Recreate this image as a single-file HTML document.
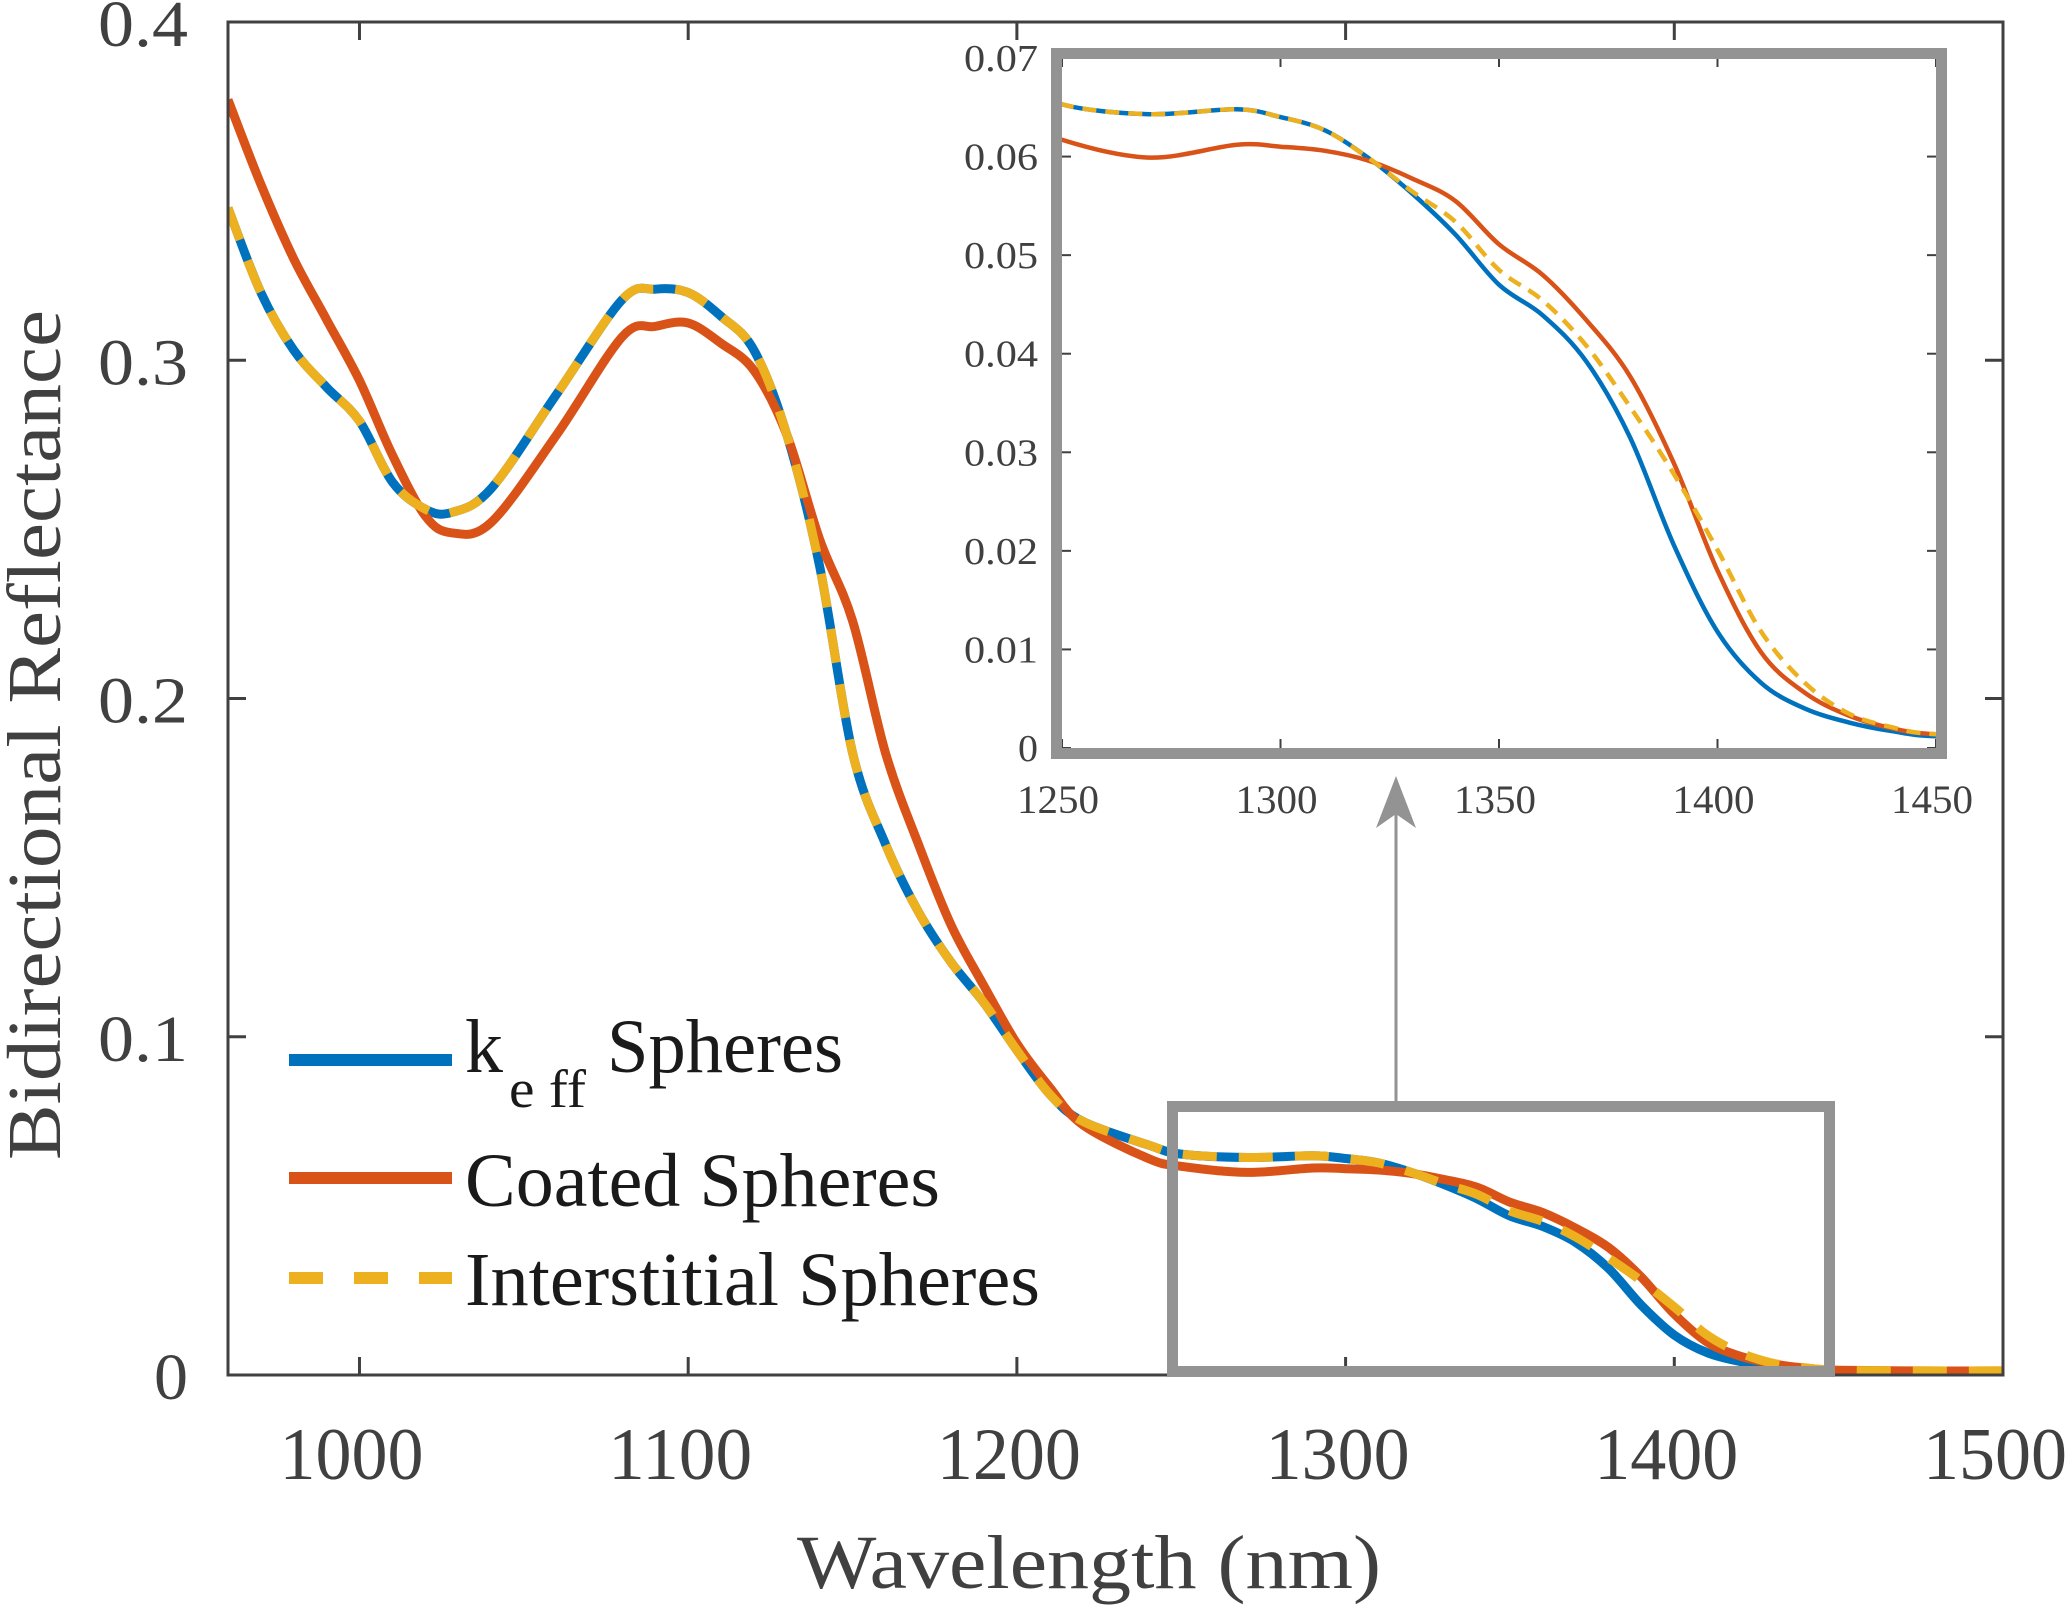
<!DOCTYPE html>
<html><head><meta charset="utf-8"><style>
html,body{margin:0;padding:0;background:#fff;}
svg{display:block;font-family:"Liberation Serif",serif;}
</style></head><body>
<svg id="chart" width="2067" height="1611" viewBox="0 0 2067 1611" xmlns="http://www.w3.org/2000/svg">
<rect x="0" y="0" width="2067" height="1611" fill="#fff"/>
<g id="main-marks"></g>
<g id="main-axes"></g>
<g id="inset"></g>
<g id="legend">
  <line x1="289" y1="1060" x2="452" y2="1060" stroke="#0072BD" stroke-width="12"/>
  <text x="465" y="1072" font-size="76" fill="#1a1a1a" textLength="38" lengthAdjust="spacingAndGlyphs">k</text>
  <text x="509" y="1107" font-size="54" fill="#1a1a1a" textLength="77" lengthAdjust="spacingAndGlyphs">e ff</text>
  <text x="607" y="1072" font-size="76" fill="#1a1a1a" textLength="236" lengthAdjust="spacingAndGlyphs">Spheres</text>
  <line x1="289" y1="1178" x2="452" y2="1178" stroke="#D95319" stroke-width="12"/>
  <text x="465" y="1206" font-size="76" fill="#1a1a1a" textLength="475" lengthAdjust="spacingAndGlyphs">Coated Spheres</text>
  <line x1="289" y1="1278" x2="452" y2="1278" stroke="#EDB120" stroke-width="12" stroke-dasharray="34 31"/>
  <text x="465" y="1305" font-size="76" fill="#1a1a1a" textLength="575" lengthAdjust="spacingAndGlyphs">Interstitial Spheres</text>
</g>
<text x="1089" y="1588" font-size="76" fill="#404040" text-anchor="middle" textLength="584" lengthAdjust="spacingAndGlyphs">Wavelength (nm)</text>
<text x="0" y="0" font-size="76" fill="#404040" text-anchor="middle" transform="translate(60,735) rotate(-90)" textLength="850" lengthAdjust="spacingAndGlyphs">Bidirectional Reflectance</text>
</svg>
<script>
const wavelengths = [960,970,980,990,1000,1010,1020,1028,1040,1060,1080,1090,1100,1110,1120,1130,1140,1150,1160,1170,1180,1190,1200,1210,1220,1240,1250,1270,1290,1300,1310,1320,1330,1340,1350,1360,1370,1380,1390,1400,1410,1420,1430,1440,1450,1475,1500];
const keffValues = [0.345,0.320,0.303,0.292,0.282,0.264,0.256,0.255,0.262,0.29,0.318,0.321,0.320,0.313,0.303,0.278,0.239,0.184,0.157,0.137,0.122,0.110,0.096,0.083,0.075,0.068,0.0653,0.0643,0.0648,0.064,0.0627,0.0599,0.0563,0.0521,0.047,0.0439,0.0392,0.0315,0.0206,0.0118,0.0066,0.004,0.0026,0.0017,0.0012,0.0011,0.001];
const coatedValues = [0.377,0.352,0.330,0.312,0.294,0.272,0.254,0.249,0.252,0.278,0.307,0.310,0.311,0.305,0.297,0.278,0.247,0.223,0.184,0.157,0.133,0.115,0.098,0.085,0.074,0.064,0.0617,0.0599,0.0612,0.0610,0.0606,0.0596,0.0578,0.0555,0.0511,0.048,0.0434,0.0377,0.0289,0.018,0.0097,0.0056,0.0033,0.002,0.0014,0.0012,0.0012];
const interstitialValues = [0.345,0.320,0.303,0.292,0.282,0.264,0.256,0.255,0.262,0.29,0.318,0.321,0.320,0.313,0.303,0.278,0.239,0.184,0.157,0.137,0.122,0.110,0.096,0.083,0.075,0.068,0.0653,0.0643,0.0648,0.064,0.0627,0.0599,0.0565,0.0534,0.0485,0.0454,0.0408,0.0346,0.0278,0.0201,0.0118,0.0066,0.0035,0.0021,0.0014,0.0012,0.0012];
const mainXTicks = [1000,1100,1200,1300,1400,1500];
const mainYTicks = [0,0.1,0.2,0.3,0.4];
const mainYTickLabels = ["0","0.1","0.2","0.3","0.4"];
const insetXTicks = [1250,1300,1350,1400,1450];
const insetYTicks = [0,0.01,0.02,0.03,0.04,0.05,0.06,0.07];
const insetYTickLabels = ["0","0.01","0.02","0.03","0.04","0.05","0.06","0.07"];

const NS = "http://www.w3.org/2000/svg";
function mk(tag, attrs, parent){const e=document.createElementNS(NS,tag);for(const k in attrs)e.setAttribute(k,attrs[k]);parent.appendChild(e);return e;}
const M = {x0:228,x1:2003,y0:1375,y1:22,xmin:960,xmax:1500,ymin:0,ymax:0.4};
const I = {x0:1062,x1:1936,y0:748,y1:58,xmin:1250,xmax:1450,ymin:0,ymax:0.07};
function sx(a,v){return a.x0+(v-a.xmin)/(a.xmax-a.xmin)*(a.x1-a.x0);}
function sy(a,v){return a.y0-(v-a.ymin)/(a.ymax-a.ymin)*(a.y0-a.y1);}
function pathFor(a,xs,ys,clip){
  const pts=[];
  for(let i=0;i<xs.length;i++){ if(clip && (xs[i]<a.xmin-30||xs[i]>a.xmax+30)) continue; pts.push([sx(a,xs[i]),sy(a,ys[i])]); }
  let d="M"+pts[0][0].toFixed(1)+","+pts[0][1].toFixed(1);
  for(let i=0;i<pts.length-1;i++){
    const p0=pts[Math.max(0,i-1)],p1=pts[i],p2=pts[i+1],p3=pts[Math.min(pts.length-1,i+2)];
    const c1=[p1[0]+(p2[0]-p0[0])/6,p1[1]+(p2[1]-p0[1])/6];
    const c2=[p2[0]-(p3[0]-p1[0])/6,p2[1]-(p3[1]-p1[1])/6];
    d+=" C"+c1[0].toFixed(1)+","+c1[1].toFixed(1)+" "+c2[0].toFixed(1)+","+c2[1].toFixed(1)+" "+p2[0].toFixed(1)+","+p2[1].toFixed(1);
  }
  return d;
}
const svg=document.getElementById("chart");
const defs=mk("defs",{},svg);
const cpM=mk("clipPath",{id:"clipM"},defs); mk("rect",{x:M.x0,y:M.y1,width:M.x1-M.x0,height:M.y0-M.y1+6},cpM);
const cpI=mk("clipPath",{id:"clipI"},defs); mk("rect",{x:I.x0,y:I.y1,width:I.x1-I.x0,height:I.y0-I.y1},cpI);

const gm=document.getElementById("main-marks");
gm.setAttribute("clip-path","url(#clipM)");
let p;
p=mk("path",{d:pathFor(M,wavelengths,keffValues),fill:"none",stroke:"#0072BD","stroke-width":9},gm);


p=mk("path",{d:pathFor(M,wavelengths,coatedValues),fill:"none",stroke:"#D95319","stroke-width":9},gm);


p=mk("path",{d:pathFor(M,wavelengths,interstitialValues),fill:"none",stroke:"#EDB120","stroke-width":9,"stroke-dasharray":"34 22"},gm);



const ga=document.getElementById("main-axes");
let e;
e=mk("rect",{x:M.x0,y:M.y1,width:M.x1-M.x0,height:M.y0-M.y1,fill:"none",stroke:"#404040","stroke-width":3},ga);


mainXTicks.forEach(t=>{
  const x=sx(M,t);
  e=mk("line",{x1:x,y1:M.y0,x2:x,y2:M.y0-18,stroke:"#404040","stroke-width":3},ga);
  
  
  mk("line",{x1:x,y1:M.y1,x2:x,y2:M.y1+18,stroke:"#404040","stroke-width":3},ga);
  e=mk("text",{x:x-8,y:1479,"font-size":74,fill:"#404040","text-anchor":"middle",textLength:144,lengthAdjust:"spacingAndGlyphs"},ga);
  e.textContent=String(t);
  
  
});
mainYTicks.forEach((t,i)=>{
  const y=sy(M,t);
  e=mk("line",{x1:M.x0,y1:y,x2:M.x0+18,y2:y,stroke:"#404040","stroke-width":3},ga);
  
  
  mk("line",{x1:M.x1,y1:y,x2:M.x1-18,y2:y,stroke:"#404040","stroke-width":3},ga);
  const lbl=mainYTickLabels[i];
  e=mk("text",{x:188,y:y+24,"font-size":66,fill:"#404040","text-anchor":"end",textLength:lbl.length>1?90:34,lengthAdjust:"spacingAndGlyphs"},ga);
  e.textContent=lbl;
  
  
});
e=mk("rect",{x:1172.5,y:1106.5,width:657,height:265,fill:"none",stroke:"#939393","stroke-width":11},ga);


e=mk("line",{x1:1396,y1:1101,x2:1396,y2:800,stroke:"#939393","stroke-width":3},ga);


e=mk("path",{d:"M1396,776 L1376,828 L1396,814 L1416,828 Z",fill:"#939393"},ga);



const gi=document.getElementById("inset");


mk("rect",{x:1051,y:49,width:896,height:710,fill:"#fff"},gi);
const gil=mk("g",{"clip-path":"url(#clipI)"},gi);
p=mk("path",{d:pathFor(I,wavelengths,keffValues,true),fill:"none",stroke:"#0072BD","stroke-width":4.5},gil);


p=mk("path",{d:pathFor(I,wavelengths,coatedValues,true),fill:"none",stroke:"#D95319","stroke-width":4.5},gil);


p=mk("path",{d:pathFor(I,wavelengths,interstitialValues,true),fill:"none",stroke:"#EDB120","stroke-width":4.5,"stroke-dasharray":"14 9"},gil);


insetXTicks.forEach(t=>{
  const x=sx(I,t);
  mk("line",{x1:x,y1:I.y0,x2:x,y2:I.y0-9,stroke:"#404040","stroke-width":2},gi);
  mk("line",{x1:x,y1:I.y1,x2:x,y2:I.y1+9,stroke:"#404040","stroke-width":2},gi);
  e=mk("text",{x:x-4,y:813,"font-size":40,fill:"#404040","text-anchor":"middle",textLength:82,lengthAdjust:"spacingAndGlyphs"},gi);
  e.textContent=String(t);
  
  
});
insetYTicks.forEach((t,i)=>{
  const y=sy(I,t);
  mk("line",{x1:I.x0,y1:y,x2:I.x0+9,y2:y,stroke:"#404040","stroke-width":2},gi);
  mk("line",{x1:I.x1,y1:y,x2:I.x1-9,y2:y,stroke:"#404040","stroke-width":2},gi);
  const lbl=insetYTickLabels[i];
  e=mk("text",{x:1038,y:y+13,"font-size":38,fill:"#404040","text-anchor":"end",textLength:lbl.length>1?74:20,lengthAdjust:"spacingAndGlyphs"},gi);
  e.textContent=lbl;
  
  
});
e=mk("rect",{x:1056.5,y:53.5,width:885,height:700,fill:"none",stroke:"#939393","stroke-width":11},gi);


</script>
</body></html>
